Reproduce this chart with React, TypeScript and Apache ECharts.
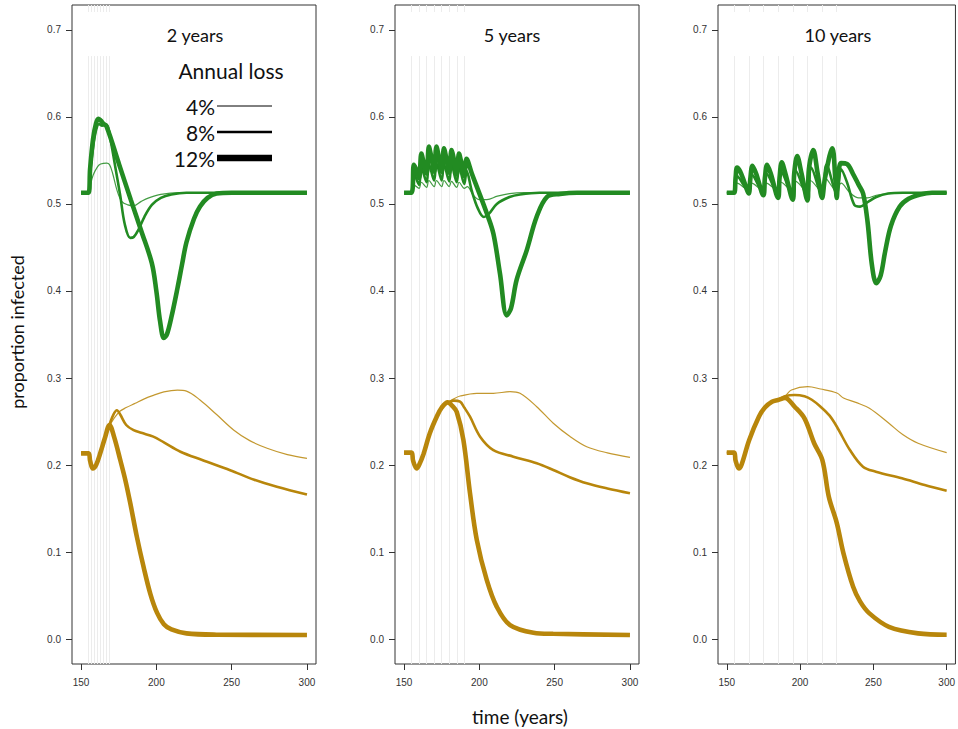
import React, { useEffect, useRef } from "react";
import * as echarts from "echarts";

const GREEN = "#228B22";
const GOLD = "#B8860B";

const xTicks = [150, 200, 250, 300];
const yTicks = [0, 0.1, 0.2, 0.3, 0.4, 0.5, 0.6, 0.7];
const panelTitles = ["2 years", "5 years", "10 years"];
const lossLabels = ["4%", "8%", "12%"];

const interventions2 = [155, 157, 159, 161, 163, 165, 167, 169];
const interventions5 = [155, 160, 165, 170, 175, 180, 185, 190];
const interventions10 = [155, 165, 175, 185, 195, 205, 215, 225];

// ---------- 2 years ----------
const green2_4 = [[150,.513],[155,.513],[156,.52],[158,.533],[161,.543],[163,.546],[167,.547],[169,.545],[171,.535],[174,.515],[177,.503],[181,.499],[185,.498],[190,.503],[195,.507],[203,.511],[215,.513],[300,.513]];
const green2_8 = [[150,.513],[155,.513],[156,.535],[158,.565],[160,.585],[162,.592],[164,.59],[166,.592],[168,.588],[170,.57],[173,.54],[176,.51],[179,.477],[182.7,.461],[185,.462],[188,.47],[192,.485],[197,.499],[203,.507],[210,.511],[220,.513],[300,.513]];
const green2_12 = [[150,.513],[155,.513],[156,.54],[158,.575],[160,.593],[161.5,.598],[163,.596],[165,.592],[167,.589],[175,.547],[183,.505],[190,.469],[197,.432],[200,.40],[202.5,.365],[205,.346],[207,.35],[210,.37],[214,.403],[217,.43],[220,.456],[225,.483],[229,.497],[234,.507],[240,.512],[250,.513],[300,.513]];
const gold2_4 = [[150,.2134],[155,.2134],[156,.205],[157.8,.196],[160,.2],[163,.215],[166,.232],[169,.245],[172,.254],[176,.262],[180,.266],[186,.271],[192,.276],[198,.28],[205,.284],[214,.286],[220,.285],[229,.2747],[240,.258],[251.5,.240],[262,.228],[274,.219],[287,.212],[300,.2077]];
const gold2_8 = [[150,.2134],[155,.2134],[156,.205],[157.8,.196],[160,.2],[163,.215],[166,.232],[169,.247],[171.5,.258],[173.8,.263],[176,.258],[180,.246],[184.9,.240],[190,.237],[198,.2326],[205,.226],[216,.2153],[230,.206],[249,.194],[265,.183],[280,.175],[300,.166]];
const gold2_12 = [[150,.2134],[155,.2134],[156,.205],[157.8,.196],[160,.2],[163,.215],[166,.232],[168.9,.246],[172,.232],[176,.206],[179.5,.182],[182.7,.156],[187,.118],[191.5,.083],[196,.052],[200.5,.03],[205,.017],[210,.011],[220,.0065],[240,.005],[300,.0046]];

// ---------- 5 years ----------
const green5_4 = [[150,.513],[155,.513],[156.5,.522],[160,.518],[161.5,.525],[165,.519],[166.5,.527],[170,.52],[171.5,.527],[175,.52],[176.5,.527],[180,.52],[181.5,.526],[185,.519],[186.5,.525],[190,.518],[192,.52],[196,.51],[200,.505],[205,.505],[212,.509],[220,.512],[230,.513],[300,.513]];
const green5_8 = [[150,.513],[155,.513],[156.5,.535],[160,.522],[161.5,.542],[165,.525],[166.5,.546],[170,.527],[171.5,.547],[175,.527],[176.5,.546],[180,.526],[181.5,.545],[185,.525],[186.5,.543],[190,.523],[191.5,.538],[195,.515],[199,.495],[203,.485],[206,.488],[211.6,.5],[220,.508],[227,.511],[240,.513],[300,.513]];
const green5_12 = [[150,.513],[155,.513],[156.5,.545],[158,.54],[160,.53],[161.5,.558],[163,.548],[165,.535],[166.5,.566],[168,.555],[170,.537],[171.5,.566],[173,.555],[175,.537],[176.5,.564],[178,.553],[180,.536],[181.5,.562],[183,.552],[185,.534],[186.5,.558],[188,.548],[190,.532],[191.5,.552],[195,.535],[198.3,.52],[205,.489],[209.3,.466],[213.7,.42],[218.2,.372],[221,.38],[224.8,.413],[231.5,.447],[238,.485],[244.8,.508],[253.6,.5115],[265,.513],[300,.513]];
const gold5_4 = [[150,.2142],[155,.2142],[156,.205],[158.4,.196],[160,.2],[163,.213],[167,.236],[171.7,.2555],[175,.266],[178.5,.271],[183,.276],[187.2,.2793],[198.3,.2824],[209.3,.2824],[220.4,.2843],[227,.2824],[238.1,.267],[249.1,.248],[260,.233],[271.3,.221],[285,.214],[300,.2088]];
const gold5_8 = [[150,.2142],[155,.2142],[156,.205],[158.4,.196],[160,.2],[163,.213],[167,.236],[171.7,.2555],[175,.266],[178.5,.271],[183,.274],[187.2,.2728],[190,.266],[193.8,.2555],[200.5,.2326],[209.3,.2172],[222.6,.2096],[238.1,.202],[249.1,.1943],[260,.186],[271.3,.179],[285,.173],[300,.1675]];
const gold5_12 = [[150,.2142],[155,.2142],[156,.205],[158.4,.196],[160,.2],[163,.213],[167,.236],[171.7,.2555],[175,.266],[179,.272],[182,.268],[185,.261],[189.4,.229],[193.8,.1675],[198.3,.114],[204.9,.068],[211.6,.037],[220.4,.016],[235.9,.0073],[249,.006],[300,.0046]];

// ---------- 10 years ----------
const green10_4 = [[150,.513],[155,.513],[157,.524],[165,.516],[167,.524],[175,.515],[177,.524],[185,.515],[187,.525],[195,.514],[197,.526],[205,.514],[207,.527],[215,.514],[217,.53],[225,.515],[228,.524],[234,.513],[240,.507],[246,.507],[252,.51],[260,.512],[270,.513],[300,.513]];
const green10_8 = [[150,.513],[155,.513],[157,.532],[165,.514],[167,.534],[175,.512],[177,.535],[185,.511],[187,.537],[195,.51],[197,.538],[205,.509],[207.5,.542],[215,.51],[218,.545],[225,.512],[228,.54],[232,.525],[237,.499],[241,.497],[246,.502],[252,.508],[260,.512],[270,.513],[300,.513]];
const green10_12 = [[150,.513],[155,.513],[156,.53],[157,.542],[159,.538],[162,.525],[165,.512],[166,.528],[167.5,.544],[170,.535],[175,.51],[176,.53],[177.5,.545],[180,.535],[185,.507],[186,.53],[187.5,.548],[190,.535],[195,.505],[196,.535],[198,.555],[201,.535],[205,.504],[206,.54],[209,.562],[212,.535],[215,.507],[217,.53],[222,.564],[224,.53],[225,.507],[226,.53],[228,.547],[232,.546],[236,.535],[240,.522],[243,.512],[246,.48],[249,.43],[252,.409],[255,.418],[258,.445],[262,.475],[268,.497],[274,.506],[282,.511],[290,.513],[300,.513]];
const gold10_4 = [[150,.2142],[155,.2142],[156,.205],[158.2,.196],[160,.2],[165.3,.2287],[171.9,.2555],[176,.266],[180.8,.2728],[185,.2747],[189.7,.279],[194.1,.2862],[205.2,.29],[214,.2874],[225.1,.2828],[229.6,.277],[238,.272],[247.3,.2652],[260.6,.248],[270,.235],[280.5,.225],[300,.2142]];
const gold10_8 = [[150,.2142],[155,.2142],[156,.205],[158.2,.196],[160,.2],[165.3,.2287],[171.9,.2555],[176,.266],[180.8,.2728],[185,.2747],[189.7,.279],[196.3,.2805],[203,.279],[208,.275],[214,.267],[220,.257],[225.1,.244],[234,.2172],[242.9,.198],[251.7,.1923],[269.5,.1847],[285,.177],[300,.1705]];
const gold10_12 = [[150,.2142],[155,.2142],[156,.205],[158.2,.196],[160,.2],[165.3,.2287],[171.9,.2555],[176,.266],[180.8,.2728],[185,.2747],[189.7,.277],[196.3,.267],[203,.2536],[209.6,.225],[215.2,.2057],[219.6,.1636],[225.1,.133],[229.6,.0985],[236.2,.06],[241,.043],[247.3,.0295],[260.6,.0141],[280.5,.0065],[300,.005]];

const panels = [
  { greens: [green2_4, green2_8, green2_12], golds: [gold2_4, gold2_8, gold2_12], times: interventions2 },
  { greens: [green5_4, green5_8, green5_12], golds: [gold5_4, gold5_8, gold5_12], times: interventions5 },
  { greens: [green10_4, green10_8, green10_12], golds: [gold10_4, gold10_8, gold10_12], times: interventions10 },
];

const Y_MIN = -0.0287;
const Y_MAX = 0.7287;
const X_MIN = 144;
const X_MAX = 306;

const widths = [1.2, 2.6, 4.6];
const gridLefts = [72, 395, 718];
const titleX = [195, 512, 838];

export default function App() {
  const ref = useRef<HTMLDivElement>(null);
  useEffect(() => {
    const chart = echarts.init(ref.current!, null, { renderer: "svg" });
    const grids: any[] = [];
    const xAxes: any[] = [];
    const yAxes: any[] = [];
    const series: any[] = [];
    panels.forEach((p, i) => {
      grids.push({
        left: gridLefts[i], top: 5, width: 244, height: 659,
        show: true, borderColor: "#333", borderWidth: 1, backgroundColor: "transparent",
      });
      xAxes.push({
        type: "value", gridIndex: i, min: X_MIN, max: X_MAX, position: "bottom",
        axisLine: { show: false, onZero: false },
        splitLine: { show: false },
        axisTick: { show: true, length: 6, customValues: xTicks, lineStyle: { color: "#333" } },
        axisLabel: { customValues: xTicks, margin: 13, fontSize: 10, color: "#333", fontFamily: "Liberation Sans" },
      });
      yAxes.push({
        type: "value", gridIndex: i, min: Y_MIN, max: Y_MAX, position: "left",
        axisLine: { show: false, onZero: false },
        splitLine: { show: false },
        axisTick: { show: true, length: 6, customValues: yTicks, lineStyle: { color: "#333" } },
        axisLabel: {
          customValues: yTicks, margin: 11, fontSize: 10, color: "#333", fontFamily: "Liberation Sans",
          formatter: (v: number) => v.toFixed(1),
        },
      });
      const vLines = p.times.map((t) => [{ coord: [t, Y_MIN] }, { coord: [t, 0.67] }]);
      const topTicks = p.times.map((t) => [{ coord: [t, 0.7207] }, { coord: [t, Y_MAX] }]);
      series.push({
        type: "line", xAxisIndex: i, yAxisIndex: i, data: [], silent: true, z: 1,
        markLine: {
          z: 1, silent: true, symbol: ["none", "none"], label: { show: false },
          lineStyle: { color: "#ececec", width: 1, type: "solid" },
          data: [...vLines, ...topTicks],
        },
      });
      p.greens.forEach((d, k) => {
        series.push({
          type: "line", xAxisIndex: i, yAxisIndex: i, data: d, showSymbol: false, z: 3 + k,
          smooth: 0.35,
          lineStyle: { color: GREEN, width: widths[k], opacity: k === 0 ? 0.85 : 1 },
          itemStyle: { color: GREEN },
        });
      });
      p.golds.forEach((d, k) => {
        series.push({
          type: "line", xAxisIndex: i, yAxisIndex: i, data: d, showSymbol: false, z: 3 + k,
          smooth: 0.35,
          lineStyle: { color: GOLD, width: widths[k], opacity: k === 0 ? 0.85 : 1 },
          itemStyle: { color: GOLD },
        });
      });
    });

    const graphics: any[] = [];
    panelTitles.forEach((t, i) => {
      graphics.push({
        type: "text", x: titleX[i], y: 35,
        style: { text: t, font: "18px Lato", fill: "#111", textAlign: "center", textVerticalAlign: "middle" },
      });
    });
    graphics.push({
      type: "text", x: 231, y: 70,
      style: { text: "Annual loss", font: "21px Lato", fill: "#111", textAlign: "center", textVerticalAlign: "middle" },
    });
    const legY = [106, 132, 158];
    const legW = [1, 2.5, 6.5];
    lossLabels.forEach((l, k) => {
      graphics.push({
        type: "text", x: 215, y: legY[k],
        style: { text: l, font: "21px Lato", fill: "#111", textAlign: "right", textVerticalAlign: "middle" },
      });
      graphics.push({
        type: "line", shape: { x1: 217, y1: legY[k], x2: 272, y2: legY[k] },
        style: { stroke: "#000", lineWidth: legW[k] },
      });
    });
    graphics.push({
      type: "text", x: 17, y: 332, rotation: Math.PI / 2,
      style: { text: "proportion infected", font: "18px Lato", fill: "#111", textAlign: "center", textVerticalAlign: "middle" },
    });
    graphics.push({
      type: "text", x: 520, y: 716,
      style: { text: "time (years)", font: "19px Lato", fill: "#111", textAlign: "center", textVerticalAlign: "middle" },
    });

    chart.setOption({
      animation: false,
      backgroundColor: "#fff",
      grid: grids,
      xAxis: xAxes,
      yAxis: yAxes,
      series,
      graphic: graphics,
    });
    return () => chart.dispose();
  }, []);
  return <div ref={ref} style={{ width: 958, height: 729, position: "absolute", left: 0, top: 0 }} />;
}
